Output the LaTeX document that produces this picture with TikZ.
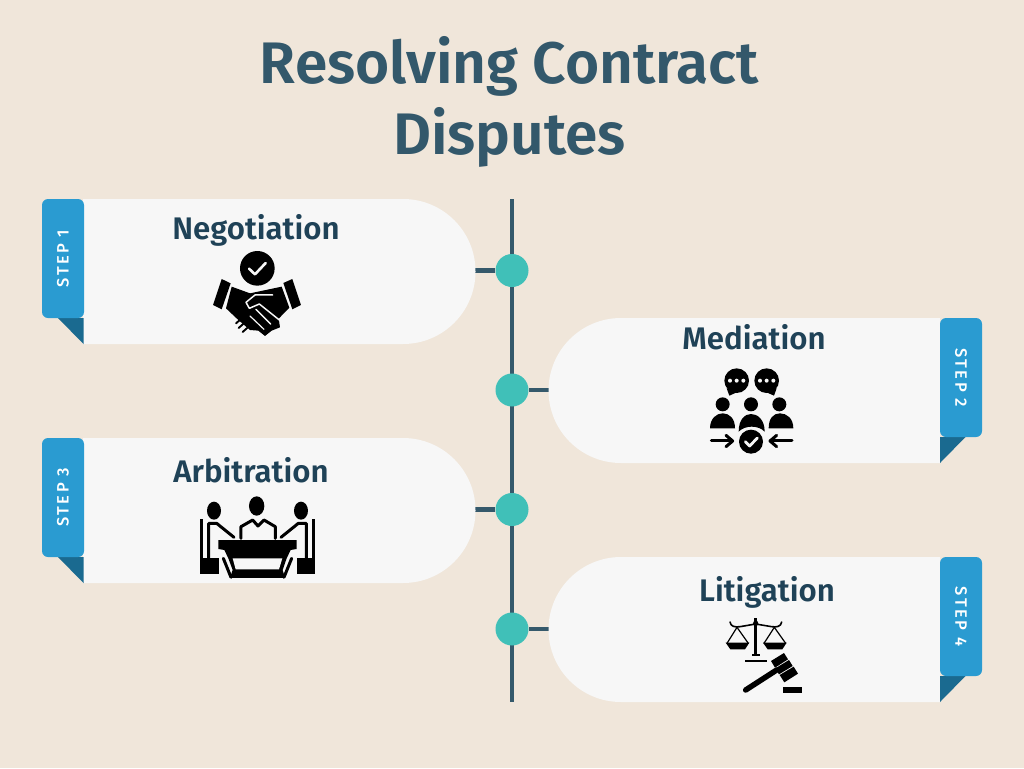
\documentclass[tikz,border=0pt]{standalone}
\usepackage{fontspec}
\setmainfont{Fira Sans}[BoldFont={Fira Sans SemiBold}]
\newfontfamily\stepfont[LetterSpace=15]{Fira Sans Medium}
\usetikzlibrary{calc}
\definecolor{bgc}{HTML}{F0E6DA}
\definecolor{cardc}{HTML}{F7F7F7}
\definecolor{tabc}{HTML}{2A9BD1}
\definecolor{foldc}{HTML}{1A6A90}
\definecolor{spinec}{HTML}{35596B}
\definecolor{dotc}{HTML}{40C0B8}
\definecolor{titlec}{HTML}{33586B}
\definecolor{headc}{HTML}{1F4257}
\tikzset{
  x=1pt,y=-1pt,
  titletext/.style={font=\fontsize{58.6}{71}\selectfont\bfseries,text=titlec,align=center,inner sep=0pt},
  headtext/.style={font=\fontsize{31.2}{36}\selectfont\bfseries,text=headc,inner sep=0pt},
  steptext/.style={font=\fontsize{16.5}{18}\stepfont,text=white,inner sep=0pt},
  junction/.style={circle,fill=dotc,minimum size=33pt,inner sep=0pt},
  linkline/.style={draw=spinec,line width=4.5pt},
  card/.style={fill=cardc},
  tabbox/.style={fill=tabc},
  fold/.style={fill=foldc},
  ink/.style={fill=black,draw=none},
  wh/.style={fill=cardc,draw=none},
  inkline/.style={draw=black,line cap=round,line join=round},
  whline/.style={draw=cardc,line cap=round,line join=round},
  iconat/.style 2 args={xshift=#1 pt,yshift=-#2 pt,x=.3333pt,y=-.3333pt}
}
\newcommand{\leftcard}[2]{% top y, label
  \fill[card] (83,#1) -- (403,#1) arc[start angle=90,end angle=-90,radius=72.5pt] -- (83,#1+145) -- cycle;
  \fill[fold] (58,#1+119) -- (83.5,#1+119) -- (83.5,#1+145) -- cycle;
  \fill[tabbox,rounded corners=6pt] (84,#1) -- (42,#1) -- (42,#1+119) -- (84,#1+119) -- cycle;
  \node[steptext,rotate=90] at (63,#1+59.5) {#2};
}
\newcommand{\rightcard}[2]{%
  \fill[card] (940,#1) -- (621,#1) arc[start angle=90,end angle=270,radius=72.5pt] -- (940,#1+145) -- cycle;
  \fill[fold] (965.5,#1+119) -- (940,#1+119) -- (940,#1+145) -- cycle;
  \fill[tabbox,rounded corners=6pt] (940,#1) -- (982,#1) -- (982,#1+119) -- (940,#1+119) -- cycle;
  \node[steptext,rotate=-90] at (961,#1+59.5) {#2};
}
\begin{document}
\begin{tikzpicture}
\useasboundingbox (0,0) rectangle (1024,768);
\fill[bgc] (0,0) rectangle (1024,768);

\node[titletext] (title) at (509.5,102) {Resolving Contract\\Disputes};

\coordinate (top) at (512,199);
\coordinate (bottom) at (512,702);
\coordinate (c1) at (472,270.5);
\coordinate (c2) at (552,390);
\coordinate (c3) at (472,509.5);
\coordinate (c4) at (552,629);
\draw[linkline] (top) -- (bottom);
\node[junction] (d1) at (512,270.5) {};
\node[junction] (d2) at (512,390) {};
\node[junction] (d3) at (512,509.5) {};
\node[junction] (d4) at (512,629) {};
\draw[linkline] (c1) -- (d1);
\draw[linkline] (c2) -- (d2);
\draw[linkline] (c3) -- (d3);
\draw[linkline] (c4) -- (d4);

\leftcard{199}{STEP 1}
\rightcard{318}{STEP 2}
\leftcard{438}{STEP 3}
\rightcard{557}{STEP 4}

\node[headtext] (n1) at (256,230) {Negotiation};
\node[headtext] (n2) at (754,337.5) {Mediation};
\node[headtext] (n3) at (251,470.5) {Arbitration};
\node[headtext] (n4) at (767,592) {Litigation};

% Handshake
\begin{scope}[iconat={200}{240}]
\fill[ink] (172,85) circle[radius=52];
\draw[whline,line width=2.6pt] (147,86) -- (165,103) -- (197,69);
\fill[ink] (65,117) -- (92,130) -- (65,208) -- (39,195) -- cycle;
\fill[ink] (277,117) -- (250,129) -- (277,208) -- (303,195) -- cycle;
\fill[ink] (95,140) -- (150,160) -- (245,140) -- (268,203) -- (236,236) -- (240,262) -- (215,272) -- (195,288) -- (175,272) -- (150,270) -- (115,240) -- (78,205) -- cycle;
\draw[whline,line width=1.5pt] (218,165) -- (165,165) -- (138,187) -- (148,205) -- (178,192) -- (238,240);
\draw[whline,line width=1.5pt] (168,208) -- (212,252);
\draw[whline,line width=1.2pt] (150,228) -- (192,268);
\fill[wh] (100,232) -- (118,250) -- (145,290) -- (100,290) -- cycle;
\draw[inkline,line width=1.9pt] (122,238) -- (108,250);
\draw[inkline,line width=1.9pt] (134,248) -- (116,264);
\draw[inkline,line width=1.9pt] (146,260) -- (128,276);
\end{scope}

% People / mediation
\begin{scope}[iconat={700}{360}]
\fill[ink] (110,62) circle[radius=37];
\fill[ink] (80,85) -- (88,107) -- (115,95) -- cycle;
\fill[ink] (200,62) circle[radius=37];
\fill[ink] (230,85) -- (222,107) -- (195,95) -- cycle;
\foreach \dx in {90,110,130,180,200,220}{\fill[wh] (\dx,62) circle[radius=6];}
\fill[ink] (68,133) circle[radius=21];
\fill[ink] (153,133) circle[radius=21];
\fill[ink] (238,133) circle[radius=21];
\fill[ink] (30,205) .. controls (30,175) and (50,160) .. (68,160) .. controls (88,160) and (105,175) .. (105,205) -- cycle;
\fill[ink] (206,205) .. controls (206,175) and (220,160) .. (240,160) .. controls (260,160) and (280,175) .. (280,205) -- cycle;
\fill[ink] (116,215) .. controls (116,178) and (135,162) .. (153,162) .. controls (172,162) and (194,178) .. (194,215) .. controls (175,195) and (135,195) .. (116,215) -- cycle;
\fill[ink] (153,245) circle[radius=36];
\draw[whline,line width=2.8pt] (136,245) -- (149,258) -- (172,234);
\draw[inkline,line width=3pt] (34,243) -- (96,243);
\draw[inkline,line width=3pt] (78,226) -- (98,243) -- (78,260);
\draw[inkline,line width=3pt] (276,243) -- (212,243);
\draw[inkline,line width=3pt] (230,226) -- (210,243) -- (230,260);
\end{scope}

% Meeting / arbitration
\begin{scope}[iconat={190}{490}]
\fill[ink] (72,62) ellipse[x radius=21,y radius=27];
\fill[ink] (200,48) ellipse[x radius=23,y radius=29];
\fill[ink] (333,62) ellipse[x radius=21,y radius=27];
\fill[ink] (30,88) rectangle (40,205);
\fill[ink] (365,88) rectangle (375,205);
\fill[ink] (30,205) rectangle (86,252);
\fill[ink] (320,205) rectangle (375,252);
\draw[inkline,line width=3pt] (56,205) -- (56,100) -- (80,100) -- (132,142);
\draw[inkline,line width=3pt] (349,205) -- (349,100) -- (325,100) -- (273,142);
\draw[inkline,line width=3pt] (153,145) -- (153,110) -- (188,90) -- (204,108) -- (222,90) -- (256,110) -- (256,145);
\fill[ink] (85,150) -- (320,150) -- (320,177) -- (302,180) -- (290,205) -- (278,240) -- (285,264) -- (120,264) -- (128,240) -- (115,205) -- (103,180) -- (85,177) -- cycle;
\fill[wh] (128,205) -- (277,205) -- (267,238) -- (137,238) -- cycle;
\draw[inkline,line width=3pt] (100,205) -- (123,262);
\draw[inkline,line width=3pt] (305,205) -- (282,262);
\end{scope}

% Scales and gavel / litigation
\begin{scope}[iconat={715}{610}]
\fill[ink] (118,25) rectangle (126,135);
\fill[ink] (122,40) circle[radius=8];
\fill[ink] (110,132) rectangle (134,138);
\fill[ink] (90,149) rectangle (155,155);
\draw[inkline,line width=1.6pt] (45,36) .. controls (47,50) and (60,52) .. (75,50) -- (122,42) -- (170,50) .. controls (185,52) and (198,50) .. (200,36);
\draw[inkline,line width=1.2pt] (66,52) -- (36,100) (66,52) -- (100,100);
\draw[inkline,line width=1.2pt] (178,52) -- (147,100) (178,52) -- (212,100);
\fill[ink] (32,98) -- (103,98) -- (90,118) -- (46,118) -- cycle;
\fill[ink] (144,98) -- (215,98) -- (202,118) -- (158,118) -- cycle;
\draw[inkline,line width=5.5pt] (92,240) -- (185,180);
\fill[ink] (168,153) -- (207,129) -- (219,148) -- (180,173) -- cycle;
\fill[ink] (181,175) -- (222,150) -- (233,168) -- (192,193) -- cycle;
\fill[ink] (194,195) -- (236,170) -- (249,191) -- (208,217) -- cycle;
\fill[ink] (205,230) rectangle (261,248);
\end{scope}
\end{tikzpicture}
\end{document}
